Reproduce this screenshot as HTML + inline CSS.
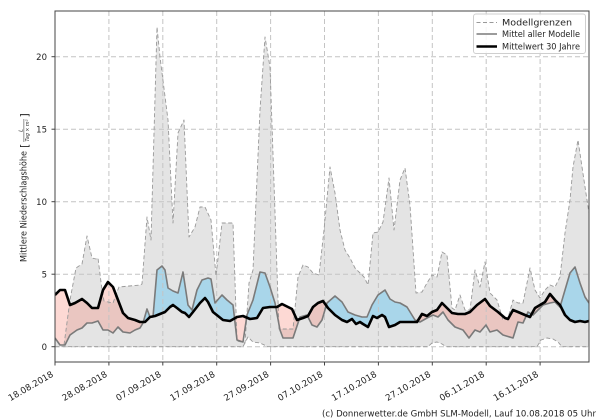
<!DOCTYPE html>
<html>
<head>
<meta charset="utf-8">
<style>
html,body{margin:0;padding:0;background:#fff;}
svg{display:block;}
text{font-family:"DejaVu Sans","Liberation Sans",sans-serif;fill:#222;}
</style>
</head>
<body>
<svg width="600" height="420" viewBox="0 0 600 420" xmlns="http://www.w3.org/2000/svg">
<defs>
  <clipPath id="plot"><rect x="55" y="11" width="534" height="351"/></clipPath>
  <clipPath id="mAbove">
    <polygon points="55,338 60,345 65,345 70,335 77,330 82,328 87,323 92,323 98,321 103,330 108,330 113,333 118,327 123,332 130,333 135,330 140,328 143,323 147,309 150,317 153,317 157,270 162,266 165,270 168,288 173,291 178,293 183,272 188,305 192,310 197,290 202,280 208,278 211,279 215,303 222,295 227,300 233,305 237,340 243,342 247,315 253,300 260,272 265,273 270,287 275,303 280,330 283,338 293,338 300,317 307,315 312,325 317,327 322,320 327,303 335,296 342,302 348,312 355,315 362,317 367,317 372,305 378,295 385,290 390,299 395,302 400,303 407,307 415,320 420,322 427,318 433,315 438,317 443,312 448,320 455,327 463,330 469,338 475,330 480,332 486,325 490,332 497,330 503,335 513,338 518,322 523,323 528,312 533,315 538,310 543,305 550,303 555,302 560,307 565,290 570,273 575,267 580,283 585,297 589,303 589,0 55,0"/>
  </clipPath>
  <clipPath id="tAbove">
    <polygon points="55,295 60,290 65,290 70,305 75,303 82,299 87,303 92,308 98,308 103,290 108,282 113,287 118,300 123,313 128,318 135,320 140,322 145,322 150,317 155,316 160,314 165,312 170,307 173,305 177,308 182,312 185,313 189,317 193,312 200,303 205,298 208,302 213,312 223,320 230,321 237,317 243,316 250,319 257,318 263,308 270,307 277,307 282,304 292,309 297,320 303,318 308,316 313,307 318,303 323,301 328,308 335,315 342,320 347,322 352,319 356,324 360,322 363,324 368,327 373,316 377,318 382,315 385,317 389,327 395,325 400,322 407,322 417,322 422,314 427,316 432,312 437,310 442,303 447,308 452,313 458,314 465,314 470,312 477,305 485,299 490,306 498,312 505,318 508,319 513,310 518,312 525,315 530,317 535,308 540,305 545,302 550,294 555,300 560,305 565,315 570,320 575,322 580,321 585,322 589,321 589,0 55,0"/>
  </clipPath>
</defs>

<rect x="0" y="0" width="600" height="420" fill="#fff"/>

<g clip-path="url(#plot)">
  <polygon fill="#e4e4e4" points="55,338 60,345 64,345 70,300 76,268 82,264 87,236 92,258 96,259 98,258 102,290 104,301 108,302 113,303 117,292 119,287 140,285 142,284 147,217 151,240 157,27 160,57 168,120 173,223 178,133 184,120 189,237 195,227 200,207 205,207 211,220 216,276 222,223 233,223 237,341 245,343 249,283 253,270 260,110 265,37 270,67 279,329 293,329 298,277 303,265 308,267 313,273 319,275 324,230 330,167 335,193 340,230 345,250 350,258 355,268 360,273 364,277 368,285 373,233 378,232 383,222 389,178 394,230 400,180 405,168 410,205 416,293 422,292 427,283 432,275 437,277 442,252 447,255 452,308 455,310 460,295 465,310 470,310 475,270 480,287 485,262 490,293 497,300 503,320 508,318 513,300 518,303 523,303 530,268 535,290 540,298 545,290 550,285 555,287 560,277 565,233 570,200 573,167 578,140 582,167 587,200 589,213 589,346.7 562,346.7 558,342 553,339 547,338 541,340 537,346.7 446,346.7 442,344 437,342 432,343 428,346.7 268,346.7 260,343 253,342 248,337 243,346.7 55,346.7"/>

  <polygon fill="rgba(250,128,114,0.3)" clip-path="url(#mAbove)" points="55,295 60,290 65,290 70,305 75,303 82,299 87,303 92,308 98,308 103,290 108,282 113,287 118,300 123,313 128,318 135,320 140,322 145,322 150,317 155,316 160,314 165,312 170,307 173,305 177,308 182,312 185,313 189,317 193,312 200,303 205,298 208,302 213,312 223,320 230,321 237,317 243,316 250,319 257,318 263,308 270,307 277,307 282,304 292,309 297,320 303,318 308,316 313,307 318,303 323,301 328,308 335,315 342,320 347,322 352,319 356,324 360,322 363,324 368,327 373,316 377,318 382,315 385,317 389,327 395,325 400,322 407,322 417,322 422,314 427,316 432,312 437,310 442,303 447,308 452,313 458,314 465,314 470,312 477,305 485,299 490,306 498,312 505,318 508,319 513,310 518,312 525,315 530,317 535,308 540,305 545,302 550,294 555,300 560,305 565,315 570,320 575,322 580,321 585,322 589,321 589,420 55,420"/>

  <polygon fill="#a9d6ea" clip-path="url(#tAbove)" points="55,338 60,345 65,345 70,335 77,330 82,328 87,323 92,323 98,321 103,330 108,330 113,333 118,327 123,332 130,333 135,330 140,328 143,323 147,309 150,317 153,317 157,270 162,266 165,270 168,288 173,291 178,293 183,272 188,305 192,310 197,290 202,280 208,278 211,279 215,303 222,295 227,300 233,305 237,340 243,342 247,315 253,300 260,272 265,273 270,287 275,303 280,330 283,338 293,338 300,317 307,315 312,325 317,327 322,320 327,303 335,296 342,302 348,312 355,315 362,317 367,317 372,305 378,295 385,290 390,299 395,302 400,303 407,307 415,320 420,322 427,318 433,315 438,317 443,312 448,320 455,327 463,330 469,338 475,330 480,332 486,325 490,332 497,330 503,335 513,338 518,322 523,323 528,312 533,315 538,310 543,305 550,303 555,302 560,307 565,290 570,273 575,267 580,283 585,297 589,303 589,420 55,420"/>

  <g stroke="#c4c4c4" stroke-width="1" stroke-dasharray="5,3" fill="none">
    <line x1="55" y1="56.7" x2="589" y2="56.7"/>
    <line x1="55" y1="129.2" x2="589" y2="129.2"/>
    <line x1="55" y1="201.7" x2="589" y2="201.7"/>
    <line x1="55" y1="274.2" x2="589" y2="274.2"/>
    <line x1="55" y1="346.7" x2="589" y2="346.7"/>
    <line x1="108.9" y1="11" x2="108.9" y2="362"/>
    <line x1="162.8" y1="11" x2="162.8" y2="362"/>
    <line x1="216.7" y1="11" x2="216.7" y2="362"/>
    <line x1="270.6" y1="11" x2="270.6" y2="362"/>
    <line x1="324.5" y1="11" x2="324.5" y2="362"/>
    <line x1="378.4" y1="11" x2="378.4" y2="362"/>
    <line x1="432.3" y1="11" x2="432.3" y2="362"/>
    <line x1="486.2" y1="11" x2="486.2" y2="362"/>
    <line x1="540.1" y1="11" x2="540.1" y2="362"/>
  </g>

  <g stroke="#999" stroke-width="0.9" stroke-dasharray="4,2.5" fill="none" stroke-linejoin="round">
    <polyline points="55,338 60,345 64,345 70,300 76,268 82,264 87,236 92,258 96,259 98,258 102,290 104,301 108,302 113,303 117,292 119,287 140,285 142,284 147,217 151,240 157,27 160,57 168,120 173,223 178,133 184,120 189,237 195,227 200,207 205,207 211,220 216,276 222,223 233,223 237,341 245,343 249,283 253,270 260,110 265,37 270,67 279,329 293,329 298,277 303,265 308,267 313,273 319,275 324,230 330,167 335,193 340,230 345,250 350,258 355,268 360,273 364,277 368,285 373,233 378,232 383,222 389,178 394,230 400,180 405,168 410,205 416,293 422,292 427,283 432,275 437,277 442,252 447,255 452,308 455,310 460,295 465,310 470,310 475,270 480,287 485,262 490,293 497,300 503,320 508,318 513,300 518,303 523,303 530,268 535,290 540,298 545,290 550,285 555,287 560,277 565,233 570,200 573,167 578,140 582,167 587,200 589,213"/>
    <polyline points="55,346.7 243,346.7 248,337 253,342 260,343 268,346.7 428,346.7 432,343 437,342 442,344 446,346.7 537,346.7 541,340 547,338 553,339 558,342 562,346.7 589,346.7"/>
  </g>

  <polyline fill="none" stroke="#7a7a7a" stroke-width="1.6" stroke-linejoin="round" points="55,338 60,345 65,345 70,335 77,330 82,328 87,323 92,323 98,321 103,330 108,330 113,333 118,327 123,332 130,333 135,330 140,328 143,323 147,309 150,317 153,317 157,270 162,266 165,270 168,288 173,291 178,293 183,272 188,305 192,310 197,290 202,280 208,278 211,279 215,303 222,295 227,300 233,305 237,340 243,342 247,315 253,300 260,272 265,273 270,287 275,303 280,330 283,338 293,338 300,317 307,315 312,325 317,327 322,320 327,303 335,296 342,302 348,312 355,315 362,317 367,317 372,305 378,295 385,290 390,299 395,302 400,303 407,307 415,320 420,322 427,318 433,315 438,317 443,312 448,320 455,327 463,330 469,338 475,330 480,332 486,325 490,332 497,330 503,335 513,338 518,322 523,323 528,312 533,315 538,310 543,305 550,303 555,302 560,307 565,290 570,273 575,267 580,283 585,297 589,303"/>

  <polyline fill="none" stroke="#000" stroke-width="2.6" stroke-linejoin="round" points="55,295 60,290 65,290 70,305 75,303 82,299 87,303 92,308 98,308 103,290 108,282 113,287 118,300 123,313 128,318 135,320 140,322 145,322 150,317 155,316 160,314 165,312 170,307 173,305 177,308 182,312 185,313 189,317 193,312 200,303 205,298 208,302 213,312 223,320 230,321 237,317 243,316 250,319 257,318 263,308 270,307 277,307 282,304 292,309 297,320 303,318 308,316 313,307 318,303 323,301 328,308 335,315 342,320 347,322 352,319 356,324 360,322 363,324 368,327 373,316 377,318 382,315 385,317 389,327 395,325 400,322 407,322 417,322 422,314 427,316 432,312 437,310 442,303 447,308 452,313 458,314 465,314 470,312 477,305 485,299 490,306 498,312 505,318 508,319 513,310 518,312 525,315 530,317 535,308 540,305 545,302 550,294 555,300 560,305 565,315 570,320 575,322 580,321 585,322 589,321"/>
</g>

<rect x="55" y="11" width="534" height="351" fill="none" stroke="#444" stroke-width="1"/>

<g stroke="#444" stroke-width="1">
  <line x1="51.5" y1="56.7" x2="55" y2="56.7"/>
  <line x1="51.5" y1="129.2" x2="55" y2="129.2"/>
  <line x1="51.5" y1="201.7" x2="55" y2="201.7"/>
  <line x1="51.5" y1="274.2" x2="55" y2="274.2"/>
  <line x1="51.5" y1="346.7" x2="55" y2="346.7"/>
  <line x1="55" y1="362" x2="55" y2="365.5"/>
  <line x1="108.9" y1="362" x2="108.9" y2="365.5"/>
  <line x1="162.8" y1="362" x2="162.8" y2="365.5"/>
  <line x1="216.7" y1="362" x2="216.7" y2="365.5"/>
  <line x1="270.6" y1="362" x2="270.6" y2="365.5"/>
  <line x1="324.5" y1="362" x2="324.5" y2="365.5"/>
  <line x1="378.4" y1="362" x2="378.4" y2="365.5"/>
  <line x1="432.3" y1="362" x2="432.3" y2="365.5"/>
  <line x1="486.2" y1="362" x2="486.2" y2="365.5"/>
  <line x1="540.1" y1="362" x2="540.1" y2="365.5"/>
</g>

<g font-size="8.5" text-anchor="end">
  <text x="47" y="59.9">20</text>
  <text x="47" y="132.4">15</text>
  <text x="47" y="204.9">10</text>
  <text x="47" y="277.4">5</text>
  <text x="47" y="349.9">0</text>
</g>

<g font-size="8.8" text-anchor="end">
  <text transform="translate(54,376) rotate(-30)">18.08.2018</text>
  <text transform="translate(107.9,376) rotate(-30)">28.08.2018</text>
  <text transform="translate(161.8,376) rotate(-30)">07.09.2018</text>
  <text transform="translate(215.7,376) rotate(-30)">17.09.2018</text>
  <text transform="translate(269.6,376) rotate(-30)">27.09.2018</text>
  <text transform="translate(323.5,376) rotate(-30)">07.10.2018</text>
  <text transform="translate(377.4,376) rotate(-30)">17.10.2018</text>
  <text transform="translate(431.3,376) rotate(-30)">27.10.2018</text>
  <text transform="translate(485.2,376) rotate(-30)">06.11.2018</text>
  <text transform="translate(539.1,376) rotate(-30)">16.11.2018</text>
</g>

<g transform="translate(26.5,262) rotate(-90)">
  <text x="0" y="0" font-size="8.5" textLength="111" lengthAdjust="spacingAndGlyphs">Mittlere Niederschlagshöhe</text>
  <text x="114" y="1.5" font-size="11">[</text>
  <text x="131.5" y="-4" font-size="5" text-anchor="middle" font-style="italic">L</text>
  <line x1="120" y1="-2.6" x2="143" y2="-2.6" stroke="#222" stroke-width="0.5"/>
  <text x="131.5" y="2.6" font-size="4.8" text-anchor="middle" font-style="italic" textLength="22" lengthAdjust="spacingAndGlyphs">Tag × m²</text>
  <text x="144.5" y="1.5" font-size="11">]</text>
</g>

<rect x="473.5" y="14" width="112" height="39.5" rx="2.5" ry="2.5" fill="rgba(255,255,255,0.85)" stroke="#cfcfcf" stroke-width="1"/>
<line x1="476.5" y1="22.5" x2="497" y2="22.5" stroke="#999" stroke-width="0.9" stroke-dasharray="4,2.5"/>
<line x1="476.5" y1="34" x2="497" y2="34" stroke="#7a7a7a" stroke-width="1.6"/>
<line x1="476.5" y1="46.5" x2="497" y2="46.5" stroke="#000" stroke-width="2.6"/>
<g font-size="8.5">
  <text x="502" y="25.7" textLength="70" lengthAdjust="spacingAndGlyphs">Modellgrenzen</text>
  <text x="502" y="37.2" textLength="78" lengthAdjust="spacingAndGlyphs">Mittel aller Modelle</text>
  <text x="502" y="49.7" textLength="78" lengthAdjust="spacingAndGlyphs">Mittelwert 30 Jahre</text>
</g>

<text x="322" y="416.5" font-size="8.8" textLength="274" lengthAdjust="spacingAndGlyphs">(c) Donnerwetter.de GmbH SLM-Modell, Lauf 10.08.2018 05 Uhr</text>
</svg>
</body>
</html>
